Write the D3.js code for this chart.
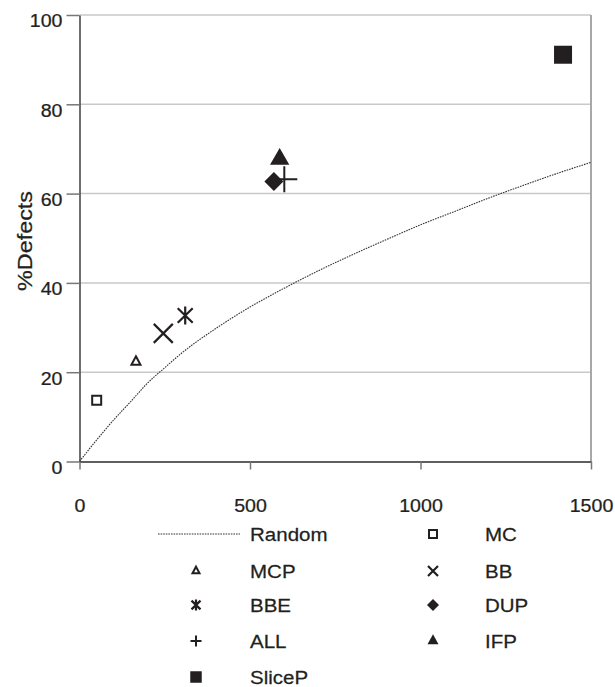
<!DOCTYPE html>
<html>
<head>
<meta charset="utf-8">
<script src="https://cdn.jsdelivr.net/npm/d3@7"></script>
<style>
  html, body { margin: 0; padding: 0; background: #fff; }
  svg { display: block; font-family: "Liberation Sans", Arial, sans-serif; }
</style>
</head>
<body>
<svg id="chart" width="615" height="687"></svg>
<script>
// ---- data ----
const randomX = [0, 50, 100, 150, 200, 250, 300, 400, 500, 600, 700, 800, 900, 1000, 1100, 1200, 1300, 1400, 1500];
const randomY = [0, 4.8, 9.3, 13.4, 17.6, 21, 24.3, 29.8, 34.6, 38.8, 42.7, 46.3, 49.7, 53, 56, 59, 61.8, 64.5, 67];

const techniques = ["MC", "MCP", "BB", "BBE", "ALL", "DUP", "IFP", "SliceP"];
const effortX    = [50.4, 165.5, 245.7, 310, 600.6, 570, 587, 1418];
const defectsY   = [13.7, 22.3, 28.7, 32.7, 63.2, 62.7, 67.7, 91.1];
const markerType = ["squareOpen", "triangleOpen", "x", "asterisk", "plus", "diamond", "triangle", "square"];

const xTicks = [0, 500, 1000, 1500];
const yTicks = [0, 20, 40, 60, 80, 100];
const yLabel = "%Defects";

const legendOrder = ["Random", "MC", "MCP", "BB", "BBE", "DUP", "ALL", "IFP", "SliceP"];

// ---- layout ----
const svg = d3.select("#chart");
const INK = "#231f20";
const x = d3.scaleLinear().domain([0, 1500]).range([79.5, 591]);
const y = d3.scaleLinear().domain([0, 100]).range([461.5, 15]);

function stretchText(sel, px, py, anchor, size, sx, rot) {
  return sel.attr("x", 0).attr("y", 0)
    .attr("text-anchor", anchor)
    .attr("font-size", size)
    .attr("fill", INK)
    .attr("stroke", INK).attr("stroke-width", 0.25)
    .attr("transform", `translate(${px},${py})` + (rot ? ` rotate(${rot})` : "") + ` scale(${sx},1)`);
}

// gridlines
svg.append("g").selectAll("line").data(yTicks.filter(d => d > 0)).join("line")
  .attr("x1", x(0)).attr("x2", x(1500))
  .attr("y1", d => y(d)).attr("y2", d => y(d))
  .attr("stroke", "#c9c9c9").attr("stroke-width", 1.5);

// right border
svg.append("line").attr("x1", x(1500)).attr("x2", x(1500)).attr("y1", y(100)).attr("y2", y(0))
  .attr("stroke", "#a8a8a8").attr("stroke-width", 2);

// axes
const gy = svg.append("g").attr("transform", `translate(${x(0)},0)`)
  .call(d3.axisLeft(y).tickValues(yTicks).tickSize(13).tickSizeOuter(0).tickFormat(d3.format("d")));
gy.select(".domain").attr("stroke", "#4a4a4a").attr("stroke-width", 1.6);
gy.selectAll(".tick line").attr("stroke", "#777").attr("stroke-width", 1.5);
gy.selectAll(".tick text").each(function () {
  stretchText(d3.select(this), -17, 6.3, "end", 17.5, 1.12, 0);
});

const gx = svg.append("g").attr("transform", `translate(0,${y(0)})`)
  .call(d3.axisBottom(x).tickValues(xTicks).tickSize(8).tickSizeOuter(0).tickFormat(d3.format("d")));
gx.select(".domain").attr("stroke", "#2a2a2a").attr("stroke-width", 1.6);
gx.selectAll(".tick line").attr("stroke", "#777").attr("stroke-width", 1.5);
gx.selectAll(".tick text").each(function () {
  stretchText(d3.select(this), 0, 38, "middle", 17.5, 1.12, 0);
});

// y label
stretchText(svg.append("text").text(yLabel), 32, 241, "middle", 20, 1.17, -90);

// random line
const line = d3.line().x(d => x(d[0])).y(d => y(d[1])).curve(d3.curveMonotoneX);
svg.append("path").datum(randomX.map((v, i) => [v, randomY[i]]))
  .attr("d", line).attr("fill", "none").attr("stroke", "#333")
  .attr("stroke-width", 1.1).attr("stroke-dasharray", "1.6,1");

// markers
function markerPath(type, big) {
  const S = big ? {
    squareOpen: 9, triangleOpen: [9, 8.5], x: 19, asterisk: [15, 18], plus: 26, diamond: 19, triangle: [19.3, 16.7], square: 18
  } : {
    squareOpen: 8, triangleOpen: [7, 6.5], x: 10, asterisk: [9, 11], plus: 11, diamond: 12, triangle: [11, 10], square: 11.5
  };
  const s = S[type];
  switch (type) {
    case "squareOpen":
    case "square":
      return `M${-s/2},${-s/2}H${s/2}V${s/2}H${-s/2}Z`;
    case "triangleOpen":
    case "triangle": {
      const [w, h] = s;
      return `M0,${-2*h/3}L${w/2},${h/3}L${-w/2},${h/3}Z`;
    }
    case "x":
      return `M${-s/2},${-s/2}L${s/2},${s/2}M${-s/2},${s/2}L${s/2},${-s/2}`;
    case "asterisk": {
      const [w, h] = s;
      return `M0,${-h/2}V${h/2}M${-w/2},${-h*0.4}L${w/2},${h*0.4}M${-w/2},${h*0.4}L${w/2},${-h*0.4}`;
    }
    case "plus":
      return `M${-s/2},0H${s/2}M0,${-s/2}V${s/2}`;
    case "diamond":
      return `M0,${-s/2}L${s/2},0L0,${s/2}L${-s/2},0Z`;
  }
}
function styleMarker(sel, type) {
  const filled = ["diamond", "triangle", "square"].includes(type);
  sel.attr("fill", filled ? INK : "none")
     .attr("stroke", filled ? "none" : INK)
     .attr("stroke-width", type === "x" || type === "asterisk" ? 2.2 : 2)
     .attr("stroke-linejoin", "miter");
}

const pts = svg.append("g");
techniques.forEach((t, i) => {
  const p = pts.append("path")
    .attr("d", markerPath(markerType[i], true))
    .attr("transform", `translate(${x(effortX[i])},${y(defectsY[i])})`);
  styleMarker(p, markerType[i]);
});

// legend
const legRowsY = [534, 571, 605, 641, 677];
const colSymX = [196, 433];
const colTextX = [250, 485];
const lg = svg.append("g");
legendOrder.forEach((name, k) => {
  const row = Math.floor(k / 2), col = k % 2;
  const cy = legRowsY[row];
  if (name === "Random") {
    lg.append("line").attr("x1", 158).attr("x2", 240).attr("y1", cy).attr("y2", cy)
      .attr("stroke", "#333").attr("stroke-width", 1.1).attr("stroke-dasharray", "1.6,1");
  } else {
    const i = techniques.indexOf(name);
    const p = lg.append("path").attr("d", markerPath(markerType[i], false))
      .attr("transform", `translate(${colSymX[col]},${cy})`);
    styleMarker(p, markerType[i]);
  }
  stretchText(lg.append("text").text(name), colTextX[col], cy + 7, "start", 19, 1.08, 0);
});
</script>
</body>
</html>
